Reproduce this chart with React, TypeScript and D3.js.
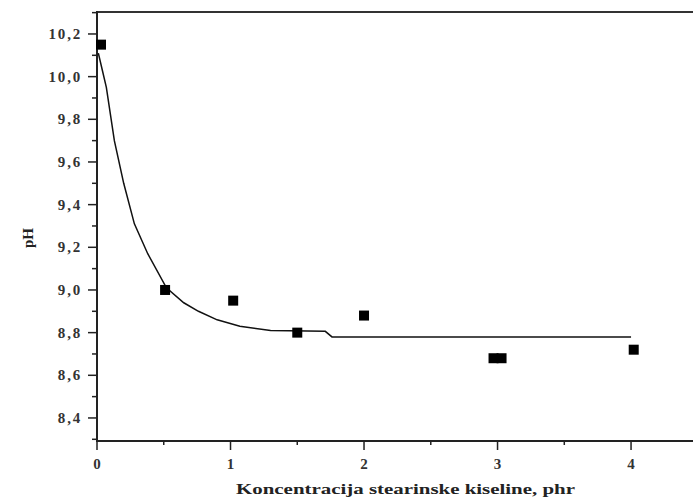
import React from "react";
import * as d3 from "d3";

const pointX = [0.03, 0.51, 1.02, 1.5, 2.0, 2.97, 3.03, 4.02];
const pointY = [10.15, 9.0, 8.95, 8.8, 8.88, 8.68, 8.68, 8.72];

const curveX = [0.01, 0.04, 0.07, 0.13, 0.2, 0.28, 0.38, 0.52, 0.65, 0.76, 0.9, 1.07, 1.3, 1.71, 1.76, 4.0];
const curveY = [10.11, 10.03, 9.95, 9.7, 9.5, 9.31, 9.17, 9.01, 8.94, 8.9, 8.86, 8.83, 8.81, 8.806, 8.78, 8.78];

const yTicks = [8.4, 8.6, 8.8, 9.0, 9.2, 9.4, 9.6, 9.8, 10.0, 10.2];
const yMinor = [8.3, 8.5, 8.7, 8.9, 9.1, 9.3, 9.5, 9.7, 9.9, 10.1, 10.3];
const xTicks = [0, 1, 2, 3, 4];
const xMinor = [0.5, 1.5, 2.5, 3.5];

const xLabel = "Koncentracija stearinske kiseline, phr";
const yLabel = "pH";

export default function App() {
  const W = 693, H = 499;
  const x = d3.scaleLinear().domain([0, 4.464]).range([97, 693]);
  const y = d3.scaleLinear().domain([8.292, 10.303]).range([441, 12]);
  const line = d3.line<number>().x((_, i) => x(curveX[i])).y((_, i) => y(curveY[i]));
  const fmt = (v: number) => v.toFixed(1).replace(".", ",");
  const font = "'Liberation Serif', 'DejaVu Serif', serif";
  return (
    <svg width={W} height={H} style={{ position: "absolute", left: 0, top: 0, background: "#fff" }}>
      <rect x={0} y={0} width={W} height={H} fill="#fff" />
      <line x1={x(0)} x2={W} y1={12} y2={12} stroke="#333" strokeWidth={2} />
      <line x1={x(0)} x2={W} y1={441} y2={441} stroke="#222" strokeWidth={2} />
      <line x1={x(0)} x2={x(0)} y1={11} y2={442} stroke="#222" strokeWidth={2} />
      {yTicks.map((t) => (
        <g key={"yt" + t}>
          <line x1={x(0) - 9} x2={x(0)} y1={y(t)} y2={y(t)} stroke="#222" strokeWidth={1.5} />
          <text x={82} y={y(t) + 5} textAnchor="end" fontFamily={font} fontSize={15} letterSpacing={1.8} fontWeight="bold" fill="#333">
            {fmt(t)}
          </text>
        </g>
      ))}
      {yMinor.map((t) => (
        <line key={"ym" + t} x1={x(0) - 5} x2={x(0)} y1={y(t)} y2={y(t)} stroke="#222" strokeWidth={1.5} />
      ))}
      {xTicks.map((t) => (
        <g key={"xt" + t}>
          <line x1={x(t)} x2={x(t)} y1={441} y2={450} stroke="#222" strokeWidth={1.5} />
          <text x={x(t)} y={469} textAnchor="middle" fontFamily={font} fontSize={15} fontWeight="bold" fill="#333">
            {t}
          </text>
        </g>
      ))}
      {xMinor.map((t) => (
        <line key={"xm" + t} x1={x(t)} x2={x(t)} y1={441} y2={445} stroke="#222" strokeWidth={1.5} />
      ))}
      <path d={line(curveX) || ""} fill="none" stroke="#111" strokeWidth={1.5} />
      {pointX.map((px, i) => (
        <rect key={"p" + i} x={x(px) - 5} y={y(pointY[i]) - 5} width={10} height={10} fill="#000" />
      ))}
      <text x={236} y={494} textLength={339} lengthAdjust="spacingAndGlyphs" fontFamily={font} fontSize={15} fontWeight="bold" fill="#222">
        {xLabel}
      </text>
      <text transform={`translate(33,238) rotate(-90)`} textAnchor="middle" fontFamily={font} fontSize={15} fontWeight="bold" fill="#222">
        {yLabel}
      </text>
    </svg>
  );
}
